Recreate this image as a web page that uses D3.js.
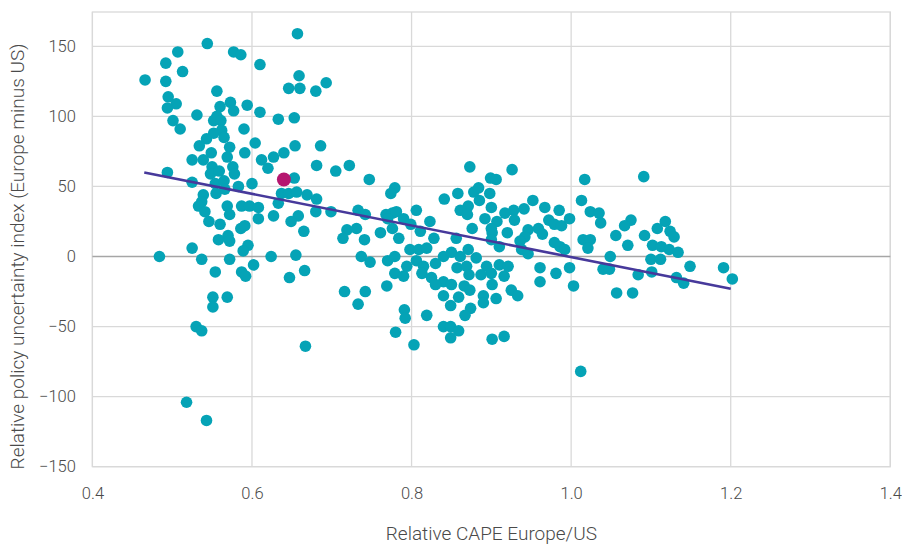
<!DOCTYPE html>
<html><head><meta charset="utf-8">
<script src="https://cdn.jsdelivr.net/npm/d3@7"></script>
<style>body{margin:0;background:#fff}svg{display:block}text{font-family:Roboto,"Noto Sans",sans-serif;}</style>
</head><body><svg id="c" width="902" height="545"></svg>
<script>
// Relative CAPE Europe/US (x) and relative policy uncertainty index (y)
const cape = [0.544,0.507,0.577,0.586,0.610,0.492,0.513,0.466,0.492,0.556,0.495,0.505,0.494,0.573,0.560,0.577,0.594,0.610,0.633,0.531,0.556,0.552,0.561,0.501,0.510,0.590,0.562,0.552,0.565,0.543,0.604,0.534,0.572,0.549,0.591,0.525,0.539,0.569,0.612,0.627,
0.494,0.525,0.550,0.548,0.559,0.554,0.576,0.578,0.565,0.583,0.600,0.620,0.633,0.539,0.537,0.555,0.566,0.533,0.541,0.546,0.560,0.569,0.572,0.587,0.597,0.608,0.608,0.627,0.586,0.591,0.570,0.558,0.572,0.595,0.589,0.525,0.484,0.537,0.572,0.624,0.602,0.554,0.587,0.592,0.551,0.569,
0.551,0.530,0.537,0.518,0.543,
0.657,0.659,0.646,0.660,0.680,0.693,0.653,0.640,0.654,0.686,
0.681,0.705,0.722,0.653,0.747,0.779,0.774,0.637,0.646,0.656,0.669,0.681,0.680,0.699,0.658,0.649,0.665,0.733,0.742,0.719,0.731,0.714,0.741,0.761,0.768,0.776,0.781,0.770,0.776,0.790,0.806,0.799,0.811,0.784,0.823,0.655,0.737,0.748,0.647,0.666,0.716,0.742,0.769,0.770,0.779,0.779,0.790,0.794,0.798,0.809,0.819,0.806,0.815,0.813,0.825,
0.733,0.791,0.792,0.819,0.780,0.803,0.667,
0.873,0.926,0.899,0.906,0.878,0.884,0.898,0.858,0.841,0.885,0.952,0.871,0.861,0.870,0.900,0.917,0.928,0.941,0.967,0.985,0.892,0.907,0.929,0.972,0.979,0.988,0.998,0.876,0.900,0.901,0.920,0.946,0.959,0.964,0.942,0.936,0.828,0.856,0.900,0.910,0.979,0.986,0.992,0.938,0.946,0.840,0.850,0.861,0.871,0.881,0.830,0.857,0.869,0.872,0.894,0.900,0.887,0.910,0.921,0.916,0.961,0.981,0.998,0.961,1.003,0.840,0.850,0.830,0.866,0.873,0.901,0.925,0.933,0.840,0.859,0.890,0.906,
0.849,0.890,0.874,0.867,0.840,0.849,0.859,0.849,0.901,0.916,1.012,
1.091,1.017,1.013,1.024,1.035,1.037,1.075,1.067,1.118,1.108,1.124,1.129,1.056,1.092,1.015,1.024,1.021,1.071,1.102,1.113,1.123,1.134,1.049,1.100,1.112,1.040,1.048,1.101,1.084,1.149,1.191,1.202,1.132,1.141,1.057,1.077];
const epu = [152,146,146,144,137,138,132,126,125,118,114,109,106,110,107,104,108,103,98,101,100,97,97,97,91,91,90,88,85,84,81,79,78,74,74,69,69,71,69,71,
60,53,64,59,61,52,64,59,54,50,52,63,38,44,39,45,48,36,32,25,23,36,30,36,36,35,27,29,20,22,15,12,11,8,4,6,0,-2,-2,0,-6,-11,-11,-14,-29,-29,
-36,-50,-53,-104,-117,
159,129,120,120,118,124,99,74,79,79,
65,61,65,56,55,49,45,45,45,46,44,41,32,32,29,25,18,33,30,19,20,13,12,17,30,31,32,27,20,27,33,23,18,13,25,1,0,-4,-15,-10,-25,-25,-21,-3,0,-12,-14,-7,5,5,6,-3,-7,-12,-15,
-34,-38,-44,-42,-54,-63,-64,
64,62,56,55,46,49,45,45,41,40,40,36,33,30,35,31,33,34,35,33,27,25,26,26,23,22,27,20,20,17,17,19,20,16,14,11,13,13,12,7,10,7,5,5,2,0,3,0,5,-1,-5,-8,-7,-13,-7,-12,-13,-6,-7,-14,-8,-12,-8,-18,-21,-18,-20,-20,-21,-24,-20,-24,-28,-28,-29,-28,-30,
-35,-33,-37,-42,-50,-50,-53,-58,-59,-57,-82,
57,55,40,32,31,24,26,22,25,20,18,14,15,15,12,12,6,8,8,7,5,3,0,-2,-2,-9,-9,-11,-13,-7,-8,-16,-15,-19,-26,-26];
const currentCape = [0.640];
const currentEpu = [55];
const trendCape = [0.465, 1.2];
const trendEpu = [60, -23];
const xTicks = [0.4,0.6,0.8,1.0,1.2,1.4];
const yTicks = [-150,-100,-50,0,50,100,150];
const xTitle = "Relative CAPE Europe/US";
const yTitle = "Relative policy uncertainty index (Europe minus US)";

const W=902,H=545;
const m={l:92.4,t:12,r:11.7,b:78.3};
const svg = d3.select("#c");
const x = d3.scaleLinear().domain([0.4,1.4]).range([m.l, W-m.r]);
const y = d3.scaleLinear().domain([-150,174.5]).range([H-m.b, m.t]);
const txt = "#4a4a4a";

// frame
svg.append("rect").attr("x",x(0.4)).attr("y",m.t).attr("width",x(1.4)-x(0.4)).attr("height",y(-150)-m.t)
  .attr("fill","none").attr("stroke","#d9d9d9").attr("stroke-width",1.3);
// gridlines
svg.append("g").selectAll("line").data(xTicks).join("line")
  .attr("x1",d=>x(d)).attr("x2",d=>x(d)).attr("y1",m.t).attr("y2",y(-150))
  .attr("stroke","#d9d9d9").attr("stroke-width",1.3);
svg.append("g").selectAll("line").data(yTicks).join("line")
  .attr("x1",x(0.4)).attr("x2",x(1.4)).attr("y1",d=>y(d)).attr("y2",d=>y(d))
  .attr("stroke",d=>d===0?"#a6a6a6":"#d9d9d9").attr("stroke-width",1.3);

// axes
const gx = svg.append("g").attr("transform",`translate(0,${y(-150)})`)
  .call(d3.axisBottom(x).tickValues(xTicks).tickFormat(d3.format(".1f")).tickSize(0).tickPadding(20.5));
const gy = svg.append("g").attr("transform",`translate(${x(0.4)},0)`)
  .call(d3.axisLeft(y).tickValues(yTicks).tickSize(0).tickPadding(16.5));
[gx,gy].forEach(g=>{g.select(".domain").remove();
  g.selectAll("text").attr("font-family","Roboto").attr("font-weight",300).attr("font-size",16.5).attr("fill",txt);});

// titles
svg.append("text").attr("x",(x(0.4)+x(1.4))/2).attr("y",540).attr("text-anchor","middle")
  .attr("font-size",19).attr("font-weight",300).attr("fill",txt).text(xTitle);
svg.append("text").attr("transform",`translate(24,${(y(-150)+y(150))/2}) rotate(-90)`).attr("text-anchor","middle")
  .attr("font-size",19).attr("font-weight",300).attr("fill",txt).text(yTitle);

// points
const pts = cape.map((c,i)=>({c,e:epu[i]}));
svg.append("g").selectAll("circle").data(pts).join("circle")
  .attr("cx",d=>x(d.c)).attr("cy",d=>y(d.e)).attr("r",5.8).attr("fill","#05a3b6");

// trend line
svg.append("line").attr("x1",x(trendCape[0])).attr("y1",y(trendEpu[0])).attr("x2",x(trendCape[1])).attr("y2",y(trendEpu[1]))
  .attr("stroke","#47399b").attr("stroke-width",2.6);

// current point
svg.append("circle").attr("cx",x(currentCape[0])).attr("cy",y(currentEpu[0])).attr("r",7).attr("fill","#b5166f");
</script></body></html>
